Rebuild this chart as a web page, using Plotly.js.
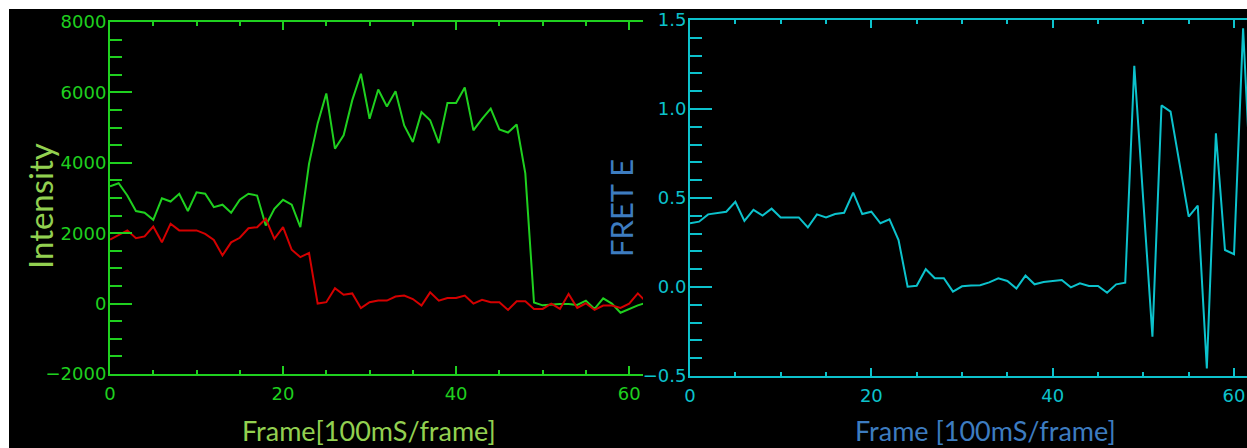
<!DOCTYPE html>
<html>
<head>
<meta charset="utf-8">
<script src="https://cdn.plot.ly/plotly-3.0.1.min.js"></script>
<style>
  html, body { margin: 0; padding: 0; background: #ffffff; overflow: hidden; }
  #chart { width: 1247px; height: 448px; }
</style>
</head>
<body>
<div id="chart"></div>
<script>
// ---- Data ----
const frames = [0,1,2,3,4,5,6,7,8,9,10,11,12,13,14,15,16,17,18,19,20,21,22,23,24,25,26,27,28,29,30,
  31,32,33,34,35,36,37,38,39,40,41,42,43,44,45,46,47,48,49,50,51,52,53,54,55,56,57,58,59,60,61,62];

const greenIntensity = [3330,3420,3070,2630,2580,2380,2990,2900,3120,2630,3160,3120,2740,2810,2580,2950,
  3120,3070,2220,2690,2950,2810,2170,3970,5120,5970,4400,4780,5780,6530,5250,6080,5600,6030,5060,4590,
  5440,5210,4560,5700,5700,6140,4920,5250,5540,4950,4860,5090,3700,30,-50,-20,-10,-10,-40,85,-150,150,
  0,-260,-150,-50,25];

const redIntensity = [1820,1960,2080,1860,1910,2190,1740,2270,2080,2080,2080,1980,1810,1370,1740,1870,
  2140,2170,2410,1840,2170,1530,1320,1440,0,40,440,250,290,-130,40,85,85,200,230,130,-55,320,85,160,160,
  230,0,110,40,40,-180,65,65,-150,-150,0,-150,275,-125,10,-180,-55,-55,-125,0,290,40];

const fretE = [0.358,0.367,0.408,0.417,0.423,0.479,0.371,0.433,0.401,0.440,0.391,0.391,0.391,0.335,0.408,
  0.391,0.410,0.417,0.530,0.410,0.423,0.358,0.380,0.264,0.002,0.007,0.100,0.049,0.049,-0.026,0.004,0.008,
  0.010,0.026,0.049,0.034,-0.008,0.064,0.015,0.028,0.034,0.039,-0.002,0.021,0.006,0.006,-0.032,0.015,
  0.024,1.243,0.480,-0.279,1.020,0.985,0.690,0.395,0.457,-0.457,0.864,0.208,0.184,1.453,0.420];

const leftXTicks = [0, 20, 40, 60];
const leftYTicks = [-2000, 0, 2000, 4000, 6000, 8000];
const rightXTicks = [0, 20, 40, 60];
const rightYTicks = [-0.5, 0.0, 0.5, 1.0, 1.5];
const rightYTickText = ['\u22120.5', '0.0', '0.5', '1.0', '1.5'];

const titles = {
  leftY: 'Intensity',
  leftX: 'Frame[100mS/frame]',
  rightY: 'FRET E',
  rightX: 'Frame [100mS/frame]'
};

// ---- Styling ----
const W = 1247, H = 448;
const GREEN = '#1fd01f';
const RED = '#d40000';
const CYAN = '#0cc2cc';
const LIGHTGREEN = '#92d050';
const BLUE = '#3d7cc0';
const tickFont = (c) => ({ family: 'DejaVu Sans', size: 18, color: c });
const px = (v) => v / W;
const py = (v) => 1 - v / H;

const traces = [
  { x: frames, y: greenIntensity, type: 'scatter', mode: 'lines', xaxis: 'x', yaxis: 'y',
    line: { color: GREEN, width: 2 }, hoverinfo: 'skip', showlegend: false },
  { x: frames, y: redIntensity, type: 'scatter', mode: 'lines', xaxis: 'x', yaxis: 'y',
    line: { color: RED, width: 2 }, hoverinfo: 'skip', showlegend: false },
  { x: frames, y: fretE, type: 'scatter', mode: 'lines', xaxis: 'x2', yaxis: 'y2',
    line: { color: CYAN, width: 2 }, hoverinfo: 'skip', showlegend: false }
];

function xAxis(color, domain, range, ticks, anchor) {
  return {
    domain: domain, range: range, anchor: anchor,
    showgrid: false, zeroline: false,
    showline: true, linecolor: color, linewidth: 2, mirror: 'ticks',
    ticks: 'inside', ticklen: 8, tickwidth: 2, tickcolor: color,
    tickmode: 'array', tickvals: ticks, ticktext: ticks.map(String),
    tickfont: tickFont(color), ticklabelstandoff: 2,
    minor: { dtick: 5, tick0: 0, ticks: 'inside', ticklen: 4, tickwidth: 2, tickcolor: color, showgrid: false }
  };
}

function yAxis(color, domain, range, ticks, text, minorStep, anchor) {
  return {
    domain: domain, range: range, anchor: anchor,
    showgrid: false, zeroline: false,
    showline: true, linecolor: color, linewidth: 2, mirror: false,
    ticks: 'inside', ticklen: 22, tickwidth: 2, tickcolor: color,
    tickmode: 'array', tickvals: ticks, ticktext: text,
    tickfont: tickFont(color), ticklabelstandoff: -2,
    minor: { dtick: minorStep, tick0: 0, ticks: 'inside', ticklen: 12, tickwidth: 2, tickcolor: color, showgrid: false }
  };
}

const layout = {
  width: W, height: H,
  margin: { l: 0, r: 0, t: 0, b: 0, pad: 0 },
  paper_bgcolor: '#ffffff',
  plot_bgcolor: '#000000',
  showlegend: false,
  xaxis: xAxis(GREEN, [px(110), px(643)], [0, 61.6], leftXTicks, 'y'),
  yaxis: yAxis(GREEN, [py(374), py(22)], [-2000, 8000], leftYTicks,
               leftYTicks.map(v => v < 0 ? '\u2212' + Math.abs(v) : String(v)), 500, 'x'),
  xaxis2: xAxis(CYAN, [px(690), 1], [0, 61.43], rightXTicks, 'y2'),
  yaxis2: yAxis(CYAN, [py(376), py(20)], [-0.5, 1.5], rightYTicks, rightYTickText, 0.1, 'x2'),
  shapes: [
    { type: 'rect', xref: 'paper', yref: 'paper', x0: px(9), x1: 1, y0: 0, y1: py(9),
      fillcolor: '#000000', line: { width: 0 }, layer: 'below' }
  ],
  annotations: [
    { text: titles.leftY, xref: 'paper', yref: 'paper', x: px(40), y: py(206),
      xanchor: 'center', yanchor: 'middle', textangle: -90, showarrow: false,
      font: { family: 'Lato', size: 33, color: LIGHTGREEN } },
    { text: titles.leftX, xref: 'paper', yref: 'paper', x: px(369), y: py(430),
      xanchor: 'center', yanchor: 'middle', showarrow: false,
      font: { family: 'Lato', size: 27, color: LIGHTGREEN } },
    { text: titles.rightY, xref: 'paper', yref: 'paper', x: px(621), y: py(208),
      xanchor: 'center', yanchor: 'middle', textangle: -90, showarrow: false,
      font: { family: 'Lato', size: 31, color: BLUE } },
    { text: titles.rightX, xref: 'paper', yref: 'paper', x: px(985), y: py(430),
      xanchor: 'center', yanchor: 'middle', showarrow: false,
      font: { family: 'Lato', size: 27, color: BLUE } }
  ]
};

Plotly.newPlot('chart', traces, layout, { displayModeBar: false, staticPlot: true });
</script>
</body>
</html>
